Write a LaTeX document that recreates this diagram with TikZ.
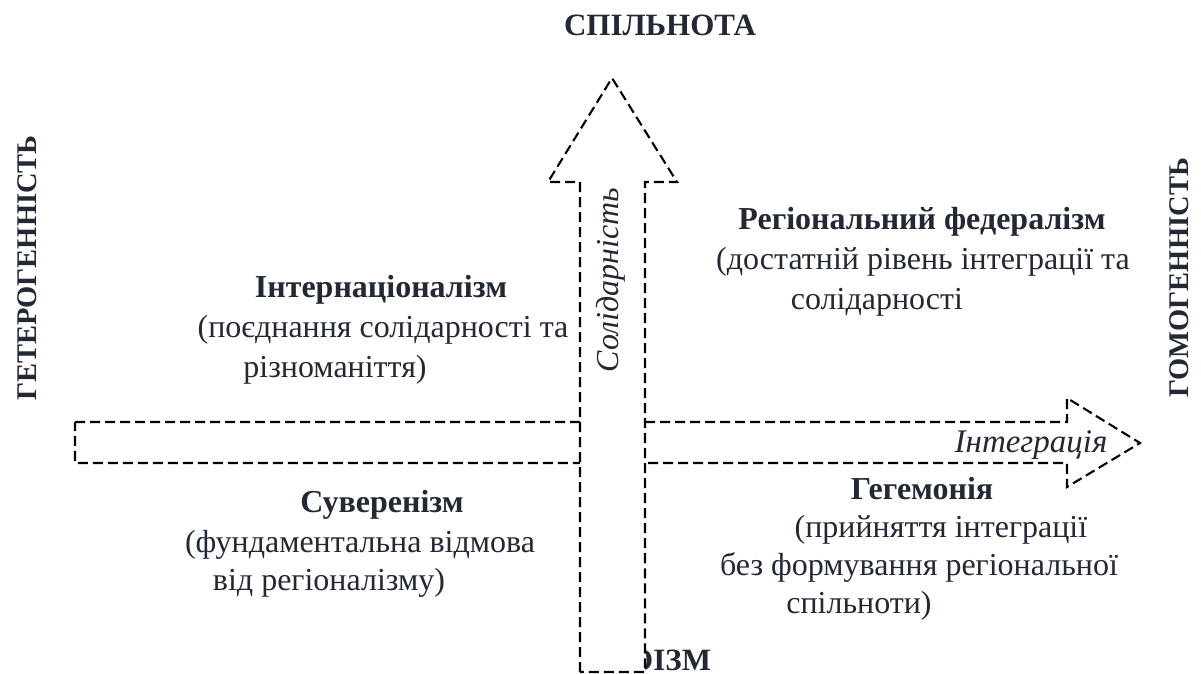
\documentclass[tikz,border=0pt]{standalone}
\usepackage{fontspec}
\setmainfont{Liberation Serif}
\definecolor{txt}{RGB}{34,40,52}
\begin{document}
\begin{tikzpicture}[x=1pt,y=-1pt,
  arr/.style={draw=black, line width=2.1pt, dash pattern=on 10pt off 5pt, fill=white},
  body/.style={text=txt, font=\fontsize{32}{38}\selectfont, inner sep=0pt, text height=21pt, text depth=6pt},
  ttl/.style={body, font=\fontsize{32}{38}\selectfont\bfseries},
  axis/.style={body, font=\fontsize{28.5}{34}\selectfont\bfseries},
  axlab/.style={body, font=\fontsize{33}{38}\selectfont\itshape}]
\useasboundingbox (0,0) rectangle (1201,674);
% horizontal arrow
\draw[arr] (75,422) -- (1067,422) -- (1067,398) -- (1140,443) -- (1067,487) -- (1067,463) -- (75,463) -- cycle;
\node[axlab] (integ) at (1031,445) {Інтеграція};
% bottom pole label (partly hidden)
\node[text=txt, font=\fontsize{31}{36}\selectfont\bfseries, inner sep=0pt, anchor=base west] (bottom) at (629,670) {ОІЗМ};
% vertical arrow
\draw[arr] (580,672) -- (580,182) -- (548,182) -- (612,78) -- (677,182) -- (645,182) -- (645,672) -- cycle;
\node[axlab, font=\fontsize{32}{38}\selectfont\itshape, rotate=90] (solid) at (611,280) {Солідарність};
% poles
\node[axis, font=\fontsize{31}{36}\selectfont\bfseries] (top) at (660,28) {СПІЛЬНОТА};
\node[axis, rotate=90] (left) at (29,268) {ГЕТЕРОГЕННІСТЬ};
\node[axis, rotate=90] (right) at (1181,278) {ГОМОГЕННІСТЬ};
% top-left
\node[ttl] (q1t) at (381,290) {Інтернаціоналізм};
\node[body] (q1a) at (383,330) {(поєднання солідарності та};
\node[body] (q1b) at (335,370) {різноманіття)};
% top-right
\node[ttl] (q2t) at (922,222) {Регіональний федералізм};
\node[body] (q2a) at (923,262) {(достатній рівень інтеграції та};
\node[body] (q2b) at (877,302) {солідарності};
% bottom-left
\node[ttl] (q3t) at (382,505) {Суверенізм};
\node[body] (q3a) at (360,545) {(фундаментальна відмова};
\node[body] (q3b) at (329,583) {від регіоналізму)};
% bottom-right
\node[ttl] (q4t) at (922,492) {Гегемонія};
\node[body] (q4a) at (941,530) {(прийняття інтеграції};
\node[body] (q4b) at (919,568) {без формування регіональної};
\node[body] (q4c) at (859,606) {спільноти)};
\end{tikzpicture}
\end{document}
